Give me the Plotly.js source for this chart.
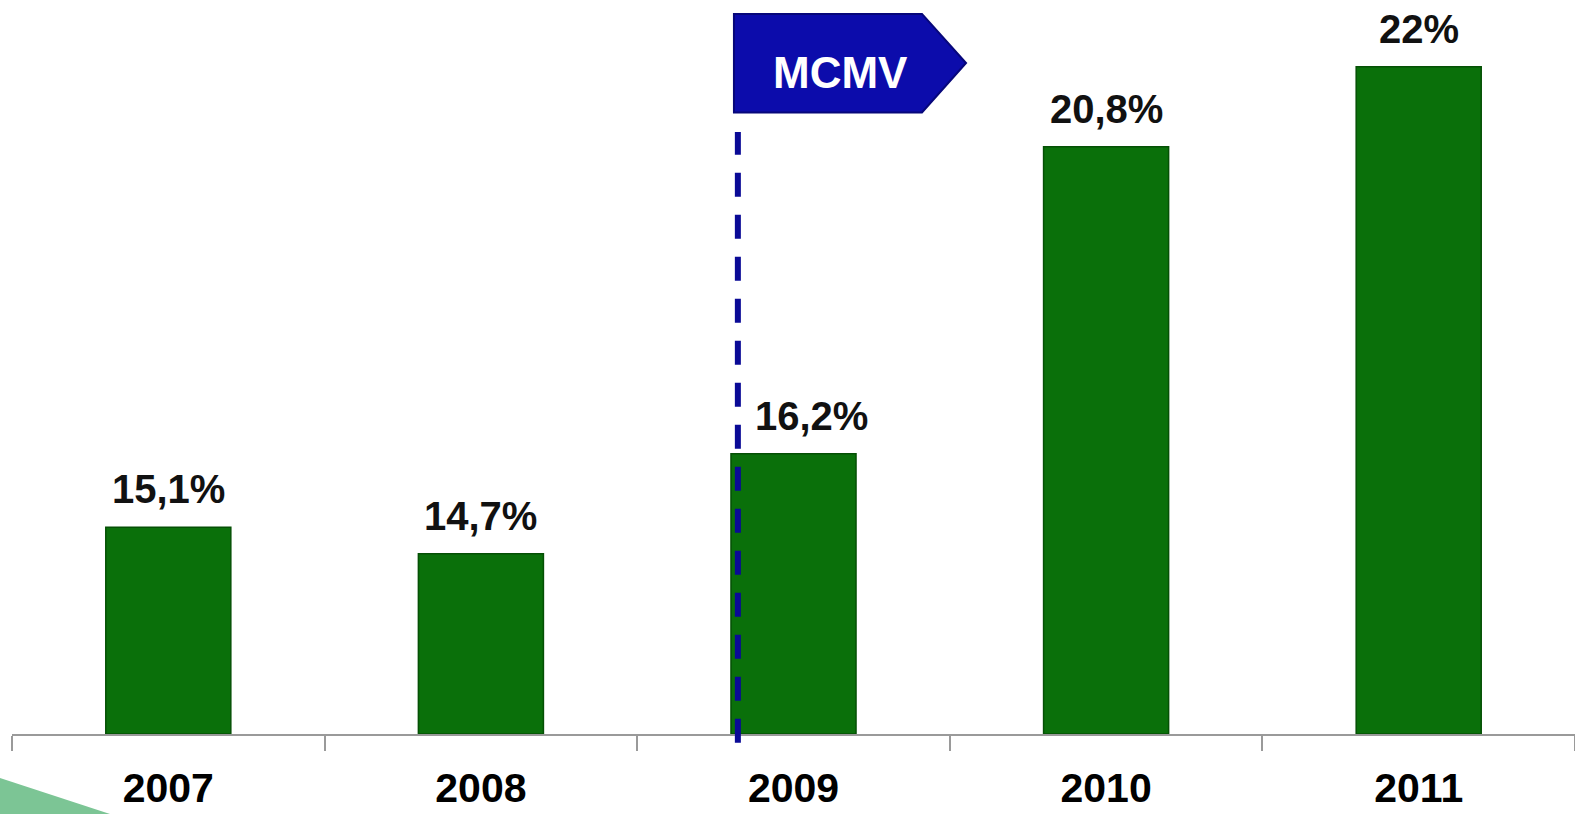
<!DOCTYPE html>
<html>
<head>
<meta charset="utf-8">
<script src="https://cdn.plot.ly/plotly-3.0.1.min.js"></script>
<style>
  html, body { margin: 0; padding: 0; background: #fff; }
  #chart { width: 1575px; height: 814px; }
</style>
</head>
<body>
<div id="chart"></div>
<script>
var years = ['2007', '2008', '2009', '2010', '2011'];
var shares = [15.1, 14.7, 16.2, 20.8, 22];
var shareLabels = ['15,1%', '14,7%', '16,2%', '20,8%', '22%'];
var milestoneLabel = 'MCMV';
var axisFloor = 12;

var barTrace = {
  type: 'bar',
  x: years,
  y: shares.map(function (v) { return v - axisFloor; }),
  base: axisFloor,
  width: 0.4,
  marker: {
    color: '#0a700a',
    line: { color: '#055005', width: 1.5 }
  },
  hoverinfo: 'x+y'
};

// value labels above the bars; category axis wants the index, not the year string
var labelNotes = years.map(function (yr, i) {
  return {
    x: i,
    y: shares[i],
    xref: 'x',
    yref: 'y',
    text: shareLabels[i],
    showarrow: false,
    yanchor: 'bottom',
    yshift: 14,
    xshift: i === 2 ? 18 : 0,
    font: { family: 'Liberation Sans, Arial, sans-serif', size: 40, weight: 'bold', color: '#111' }
  };
});

labelNotes.push({
  x: 0.5298, y: 0.938, xref: 'paper', yref: 'paper',
  text: milestoneLabel,
  showarrow: false,
  font: { family: 'Liberation Sans, Arial, sans-serif', size: 44, weight: 'bold', color: '#fff' }
});

var layout = {
  width: 1575,
  height: 814,
  margin: { l: 12, r: 0, t: 0, b: 80 },
  paper_bgcolor: '#fff',
  plot_bgcolor: '#fff',
  showlegend: false,
  xaxis: {
    type: 'category',
    range: [-0.5, 4.5],
    tickson: 'boundaries',
    ticks: 'outside',
    ticklen: 15,
    tickwidth: 2,
    tickcolor: '#9a9a9a',
    showline: true,
    linecolor: '#9a9a9a',
    linewidth: 2,
    showgrid: false,
    zeroline: false,
    ticklabelstandoff: 17,
    tickfont: { family: 'Liberation Sans, Arial, sans-serif', size: 41, weight: 'bold', color: '#000' }
  },
  yaxis: {
    range: [12, 23],
    visible: false,
    showgrid: false,
    zeroline: false
  },
  shapes: [
    {
      type: 'path',
      xref: 'paper', yref: 'paper',
      path: 'M 0.4619 0.981 L 0.5822 0.981 L 0.6104 0.9142 L 0.5822 0.8467 L 0.4619 0.8467 Z',
      fillcolor: '#0c0cab',
      line: { color: '#07077a', width: 2 },
      layer: 'above'
    },
    {
      type: 'line',
      xref: 'x', yref: 'paper',
      x0: 1.822, x1: 1.822,
      y0: -0.012, y1: 0.82,
      line: { color: '#0a0a96', width: 6, dash: '24px,18px' },
      layer: 'above'
    },
    {
      type: 'path',
      xref: 'paper', yref: 'paper',
      path: 'M -0.0077 -0.06 L 0.0627 -0.109 L -0.0077 -0.109 Z',
      fillcolor: '#7cc595',
      line: { width: 0 },
      layer: 'below'
    }
  ],
  annotations: labelNotes
};

Plotly.newPlot('chart', [barTrace], layout, { displayModeBar: false, staticPlot: true });
</script>
</body>
</html>
